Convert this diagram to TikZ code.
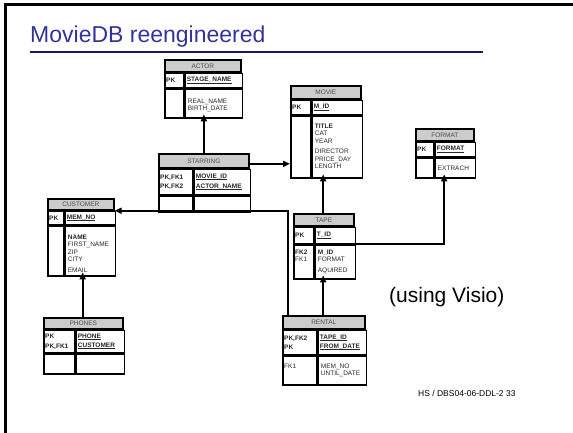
\documentclass[tikz,border=0pt]{standalone}
\usepackage{fontspec}
\setmainfont{Liberation Sans}
\usetikzlibrary{arrows.meta,positioning}
\definecolor{titleblue}{RGB}{51,51,153}
\definecolor{rulenavy}{RGB}{25,25,102}
\definecolor{hdrgray}{RGB}{204,204,204}
\tikzset{
  tblcell/.style={draw, line width=1.7pt, inner sep=0pt, anchor=north west},
  tblhead/.style={tblcell, fill=hdrgray, text=black!70, font=\fontsize{6.5}{7.5}\selectfont},
  celltext/.style={inner sep=0pt, align=left, anchor=north west, text=black!85,
    font=\fontsize{6.5}{7.5}\selectfont},
  fklink/.style={line width=1.7pt, -{Triangle[length=7pt,width=6pt]}},
}
\newcommand{\keyfield}[1]{\setbox0\hbox{\bfseries #1}\rlap{\rule[-1.7pt]{\wd0}{1pt}}\box0}
% #1 name, #2 x, #3 y, #4 width, #5 left column, #6 #7 #8 row heights, #9 title
\newcommand{\ertable}[9]{%
  \node[tblhead, minimum width=#4, minimum height=#6] (#1-h) at (#2,#3) {#9};
  \node[tblcell, minimum width=#5, minimum height=#7] (#1-kl) at (#1-h.south west) {};
  \node[tblcell, minimum width=#4-#5, minimum height=#7] (#1-kr) at (#1-kl.north east) {};
  \node[tblcell, minimum width=#5, minimum height=#8] (#1-al) at (#1-kl.south west) {};
  \node[tblcell, minimum width=#4-#5, minimum height=#8] (#1-ar) at (#1-al.north east) {};
  \node[inner sep=0pt, anchor=north west, minimum width=#4, minimum height=#6+#7+#8] (#1) at (#2,#3) {};
}

\begin{document}
\begin{tikzpicture}[x=1pt,y=-1pt]
\useasboundingbox (0,0) rectangle (573,433);

% slide frame and title
\draw[line width=3pt] (5,433) -- (5,5) -- (573,5);
\node[anchor=base west, inner sep=0pt, text=titleblue, font=\fontsize{23}{26}\selectfont] (title) at (30,43) {MovieDB reengineered};
\draw[rulenavy, line width=2pt] (30,52) -- (483,52);

% tables
\ertable{actor}{164}{59}{76}{19}{12}{14}{29}{ACTOR}
\ertable{movie}{290}{85}{70}{20}{13}{14}{62}{MOVIE}
\ertable{format}{415}{128}{58}{18}{12}{14}{20}{FORMAT}
\ertable{starring}{158}{153}{90}{34}{14}{25}{16}{STARRING}
\ertable{customer}{47}{198}{66}{16}{11}{13}{50}{CUSTOMER}
\ertable{tape}{293}{213}{60}{20}{12}{16}{34}{TAPE}
\ertable{phones}{43}{317}{79}{31}{11}{22}{20}{PHONES}
\ertable{rental}{282}{315}{82}{34}{13}{24}{29}{RENTAL}

% keys
\node[celltext, anchor=west] (actor-pk) at ([xshift=2pt]actor-kl.west) {\textbf{PK}};
\node[celltext, anchor=west] (actor-key) at ([xshift=2pt]actor-kr.west) {\keyfield{STAGE\_NAME}};
\node[celltext, anchor=west] (movie-pk) at ([xshift=2pt]movie-kl.west) {\textbf{PK}};
\node[celltext, anchor=west] (movie-key) at ([xshift=2pt]movie-kr.west) {\keyfield{M\_ID}};
\node[celltext, anchor=west] (format-pk) at ([xshift=2pt]format-kl.west) {\textbf{PK}};
\node[celltext, anchor=west] (format-key) at ([xshift=2pt]format-kr.west) {\keyfield{FORMAT}};
\node[celltext, anchor=west] (starring-pk) at ([xshift=2pt]starring-kl.west) {\textbf{PK,FK1}\\[2pt]\textbf{PK,FK2}};
\node[celltext, anchor=west] (starring-key) at ([xshift=2pt]starring-kr.west) {\keyfield{MOVIE\_ID}\\[2pt]\keyfield{ACTOR\_NAME}};
\node[celltext, anchor=west] (customer-pk) at ([xshift=2pt]customer-kl.west) {\textbf{PK}};
\node[celltext, anchor=west] (customer-key) at ([xshift=2pt]customer-kr.west) {\keyfield{MEM\_NO}};
\node[celltext, anchor=west] (tape-pk) at ([xshift=2pt]tape-kl.west) {\textbf{PK}};
\node[celltext, anchor=west] (tape-key) at ([xshift=2pt]tape-kr.west) {\keyfield{T\_ID}};
\node[celltext, anchor=west] (phones-pk) at ([xshift=2pt]phones-kl.west) {\textbf{PK}\\[2pt]\textbf{PK,FK1}};
\node[celltext, anchor=west] (phones-key) at ([xshift=2pt]phones-kr.west) {\keyfield{PHONE}\\[2pt]\keyfield{CUSTOMER}};
\node[celltext, anchor=west] (rental-pk) at ([xshift=2pt]rental-kl.west) {\textbf{PK,FK2}\\[2pt]\textbf{PK}};
\node[celltext, anchor=west] (rental-key) at ([xshift=2pt]rental-kr.west) {\keyfield{TAPE\_ID}\\[2pt]\keyfield{FROM\_DATE}};

% attributes
\node[celltext] (actor-att) at ([shift={(3pt,-10pt)}]actor-ar.north west) {REAL\_NAME\\BIRTH\_DATE};
\node[celltext] (movie-att) at ([shift={(3pt,-8pt)}]movie-ar.north west) {\textbf{TITLE}\\CAT\\YEAR\\[3pt]DIRECTOR\\PRICE\_DAY\\LENGTH};
\node[celltext] (format-att) at ([shift={(3pt,-8pt)}]format-ar.north west) {EXTRACH};
\node[celltext] (customer-att) at ([shift={(3pt,-9pt)}]customer-ar.north west) {\textbf{NAME}\\FIRST\_NAME\\ZIP\\CITY\\[3pt]EMAIL};
\node[celltext] (tape-fk) at ([shift={(2pt,-5pt)}]tape-al.north west) {\textbf{FK2}\\FK1};
\node[celltext] (tape-att) at ([shift={(3pt,-5pt)}]tape-ar.north west) {\textbf{M\_ID}\\FORMAT\\[3pt]AQUIRED};
\node[celltext] (rental-fk) at ([shift={(2pt,-8pt)}]rental-al.north west) {FK1};
\node[celltext] (rental-att) at ([shift={(3pt,-8pt)}]rental-ar.north west) {MEM\_NO\\UNTIL\_DATE};

% relationships
\coordinate (starring-out) at ([yshift=-3pt]starring-h.east);
\coordinate (rental-up) at ([xshift=6pt]rental.north west);
\draw[fklink] (starring-h.north) -- (starring-h.north |- actor.south);
\draw[fklink] (starring-out) -- (starring-out -| movie.west);
\draw[fklink] (tape.north) -- (tape.north |- movie.south);
\draw[fklink] (tape.east) -| (format.south);
\draw[fklink] (rental.north) -- (rental.north |- tape.south);
\draw[fklink] (phones.north) -- (phones.north |- customer.south);
\draw[fklink] (rental-up) |- (customer-h.south east);

% notes
\node[anchor=west, inner sep=0pt, font=\fontsize{21}{24}\selectfont] (visio) at (389,297) {(using Visio)};
\node[anchor=west, inner sep=0pt, font=\fontsize{8.5}{10}\selectfont] (footer) at (418,393) {HS / DBS04-06-DDL-2 33};
\end{tikzpicture}
\end{document}
